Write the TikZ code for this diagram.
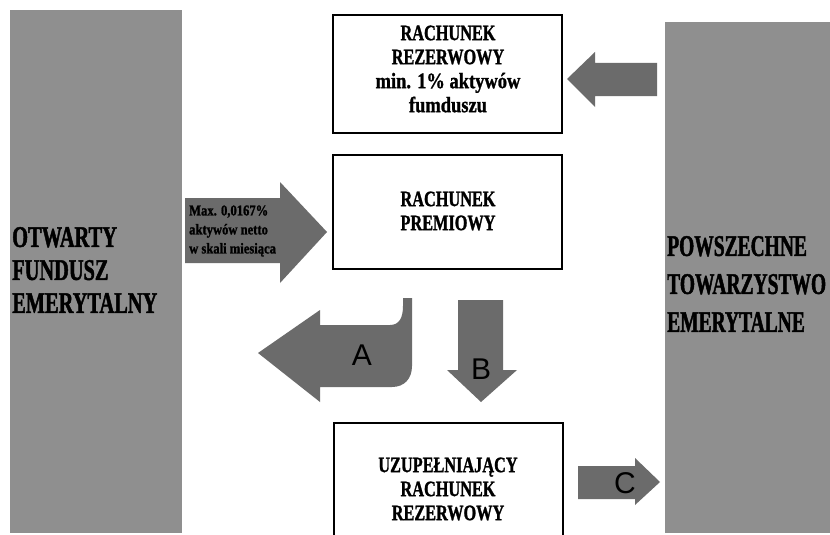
\documentclass[tikz,border=0pt]{standalone}
\usepackage{fontspec}
\setmainfont{Liberation Serif}
\newfontfamily\condfont[FakeStretch=0.74,BoldFeatures={FakeBold=1.2}]{Liberation Serif}
\newfontfamily\semicondfont[FakeStretch=0.84,BoldFeatures={FakeBold=1.2}]{Liberation Serif}
\newfontfamily\narrowfont[FakeStretch=0.68,BoldFeatures={FakeBold=1.5}]{Liberation Serif}
\newfontfamily\narrowerfont[FakeStretch=0.65,BoldFeatures={FakeBold=1.5}]{Liberation Serif}
\newfontfamily\letterfont{Liberation Sans}
\definecolor{panelgray}{gray}{0.56}
\definecolor{arrowgray}{gray}{0.42}
\begin{document}
\begin{tikzpicture}[x=1pt,y=-1pt,
  panel/.style={fill=panelgray,draw=none},
  acct/.style={draw=black,line width=2pt,fill=white,minimum width=229pt,inner sep=0pt},
  acctxt/.style={align=center,font=\condfont\bfseries\fontsize{22}{24}\selectfont},
  bigtxt/.style={align=left,anchor=west,inner sep=0pt,font=\narrowfont\bfseries\fontsize{30}{33}\selectfont},
  blockarrow/.style={fill=arrowgray,draw=none},
  lettertxt/.style={font=\letterfont\fontsize{30}{30}\selectfont}]
\clip (0,0) rectangle (830,535);
\fill[white] (0,0) rectangle (830,535);
% side panels
\fill[panel] (10,10) rectangle (182,533);
\fill[panel] (665,22) rectangle (832,533);
\node[bigtxt] (ofe) at (12,270) {OTWARTY\\FUNDUSZ\\EMERYTALNY};
\node[bigtxt,font=\narrowerfont\bfseries\fontsize{30}{38}\selectfont] (pte) at (667,284) {POWSZECHNE\\TOWARZYSTWO\\EMERYTALNE};
% account boxes
\node[acct,minimum height=118pt] (rez) at (447.5,74) {};
\node[acct,minimum height=114pt] (prem) at (447.5,212) {};
\node[acct,minimum height=114pt] (uzup) at (448.5,480) {};
\node[acctxt] (reztxt) at (448,69) {RACHUNEK\\REZERWOWY\\{\semicondfont min. 1\% aktywów}\\{\semicondfont fumduszu}};
\node[acctxt] (premtxt) at (448,211) {RACHUNEK\\PREMIOWY};
\node[acctxt] (uzuptxt) at (448,489) {UZUPEŁNIAJĄCY\\RACHUNEK\\REZERWOWY};
% arrow PTE -> rezerwowy
\fill[blockarrow] (567,79) -- (595,52) -- (595,63) -- (657,63) -- (657,96) -- (595,96) -- (595,107) -- cycle;
% arrow OFE -> premiowy
\fill[blockarrow] (185,198) -- (280,198) -- (280,182) -- (327,232) -- (280,283) -- (280,263) -- (185,263) -- cycle;
\node[align=left,anchor=west,inner sep=0pt,font=\semicondfont\bfseries\fontsize{15}{19}\selectfont] (maxtxt) at (189,231) {Max. 0,0167\%\\aktywów netto\\w skali miesiąca};
% arrow A
\fill[blockarrow] (258,353) -- (320,310) -- (320,325) -- (390,325)
  .. controls (399,325) and (403,318) .. (403,306) -- (403,298) -- (412,298) -- (412,366)
  .. controls (412,379) and (404,387) .. (392,387) -- (320,387) -- (320,402) -- cycle;
\node[lettertxt] (la) at (362,355) {A};
% arrow B
\fill[blockarrow] (458,300) -- (503,300) -- (503,370) -- (517,370) -- (481,402) -- (447,370) -- (458,370) -- cycle;
\node[lettertxt] (lb) at (481,369) {B};
% arrow C
\fill[blockarrow] (578,466) -- (635,466) -- (635,458) -- (660,482) -- (635,505) -- (635,499) -- (578,499) -- cycle;
\node[lettertxt] (lc) at (625,483) {C};
\end{tikzpicture}
\end{document}
